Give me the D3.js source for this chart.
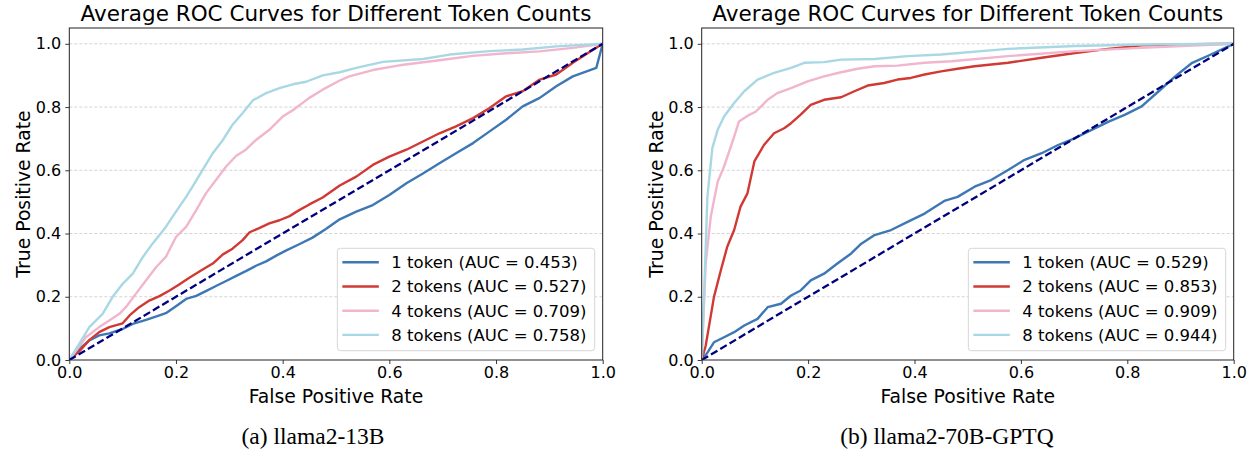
<!DOCTYPE html>
<html>
<head>
<meta charset="utf-8">
<script src="https://cdn.jsdelivr.net/npm/d3@7/dist/d3.min.js"></script>
<style>
  html, body { margin: 0; padding: 0; background: #fff; }
  svg { display: block; }
  text { font-family: "DejaVu Sans", sans-serif; fill: #000; }
  text.caption { font-family: "Liberation Serif", "Times New Roman", serif; }
</style>
</head>
<body>
<svg id="chart" width="1257" height="450"></svg>
<script>
// ---------- DATA ----------
const chartTitle = "Average ROC Curves for Different Token Counts";
const xLabel = "False Positive Rate";
const yLabel = "True Positive Rate";
const captions = ["(a) llama2-13B", "(b) llama2-70B-GPTQ"];
const tickValues = [0, 0.2, 0.4, 0.6, 0.8, 1.0];
const seriesNames = ["1 token", "2 tokens", "4 tokens", "8 tokens"];
const seriesColors = ["#3d78b4", "#d13a34", "#f1b5cd", "#a9d8e5"];
const aucLeft = [0.453, 0.527, 0.709, 0.758];
const aucRight = [0.529, 0.853, 0.909, 0.944];

// llama2-13B  [fpr, tpr]
const left1 = [[0,0],[.019,.035],[.0375,.062],[.056,.078],[.075,.084],[.1,.098],[.119,.114],[.144,.127],[.169,.141],[.181,.148],[.2,.170],[.219,.193],[.238,.203],[.256,.218],[.275,.234],[.294,.250],[.313,.266],[.331,.281],[.350,.298],[.369,.312],[.388,.330],[.406,.346],[.431,.366],[.456,.387],[.481,.414],[.507,.445],[.538,.469],[.569,.490],[.600,.522],[.632,.559],[.663,.590],[.694,.622],[.725,.654],[.757,.686],[.788,.723],[.819,.760],[.850,.802],[.882,.829],[.913,.866],[.944,.897],[.988,.924],[1,1]];
const left2 = [[0,0],[.019,.028],[.0375,.063],[.056,.088],[.075,.104],[.1,.116],[.113,.141],[.131,.167],[.150,.188],[.169,.202],[.188,.220],[.206,.239],[.225,.260],[.25,.286],[.269,.305],[.288,.334],[.306,.352],[.325,.379],[.338,.404],[.356,.417],[.375,.432],[.394,.442],[.413,.455],[.431,.474],[.450,.492],[.475,.514],[.507,.552],[.538,.580],[.569,.617],[.600,.643],[.632,.665],[.663,.691],[.694,.717],[.725,.739],[.757,.765],[.788,.797],[.819,.834],[.850,.850],[.882,.887],[.913,.903],[.944,.940],[.976,.975],[1,1]];
const left4 = [[0,0],[.031,.072],[.056,.104],[.075,.125],[.094,.146],[.106,.167],[.125,.210],[.144,.252],[.163,.294],[.181,.326],[.2,.389],[.219,.421],[.238,.474],[.256,.527],[.275,.569],[.294,.612],[.313,.646],[.331,.665],[.350,.696],[.375,.728],[.400,.770],[.419,.790],[.450,.829],[.475,.855],[.507,.884],[.525,.897],[.569,.917],[.619,.932],[.694,.948],[.756,.962],[.819,.970],[.881,.976],[.944,.987],[1,1]];
const left8 = [[0,0],[.0375,.104],[.0625,.146],[.081,.199],[.1,.241],[.119,.273],[.138,.326],[.156,.368],[.181,.421],[.2,.469],[.219,.516],[.231,.548],[.25,.601],[.269,.654],[.288,.696],[.306,.744],[.325,.781],[.344,.821],[.369,.844],[.394,.860],[.419,.872],[.444,.880],[.475,.900],[.507,.910],[.538,.924],[.588,.943],[.663,.952],[.713,.966],[.788,.977],[.850,.982],[.913,.992],[1,1]];

// llama2-70B-GPTQ  [fpr, tpr]
const right1 = [[0,0],[.011,.024],[.023,.056],[.042,.072],[.061,.088],[.080,.109],[.105,.130],[.124,.167],[.149,.178],[.168,.204],[.186,.220],[.205,.252],[.230,.273],[.255,.305],[.281,.337],[.300,.368],[.325,.395],[.356,.411],[.387,.437],[.419,.463],[.456,.503],[.481,.516],[.513,.548],[.544,.569],[.576,.601],[.607,.633],[.639,.654],[.670,.680],[.702,.702],[.733,.728],[.765,.754],[.796,.776],[.827,.802],[.859,.850],[.890,.897],[.922,.940],[.953,.963],[.984,.987],[1,1]];
const right2 = [[0,0],[.0075,.045],[.023,.199],[.036,.284],[.048,.358],[.061,.411],[.073,.485],[.086,.527],[.099,.628],[.117,.680],[.136,.717],[.155,.733],[.168,.749],[.186,.776],[.205,.807],[.230,.823],[.262,.831],[.287,.850],[.312,.868],[.343,.876],[.368,.887],[.393,.892],[.419,.903],[.450,.913],[.481,.921],[.513,.929],[.576,.940],[.639,.956],[.702,.971],[.764,.984],[.827,.995],[.890,.998],[1,1]];
const right4 = [[0,0],[.0075,.305],[.017,.453],[.030,.564],[.042,.612],[.058,.691],[.070,.754],[.086,.772],[.102,.786],[.124,.823],[.142,.844],[.168,.860],[.199,.881],[.230,.897],[.262,.910],[.293,.921],[.325,.929],[.368,.931],[.419,.940],[.469,.945],[.576,.961],[.702,.977],[.827,.987],[1,1]];
const right8 = [[0,0],[.0044,.199],[.0107,.516],[.020,.670],[.030,.728],[.042,.770],[.061,.813],[.080,.850],[.105,.887],[.136,.908],[.168,.924],[.193,.940],[.230,.942],[.262,.950],[.325,.952],[.387,.961],[.450,.966],[.576,.984],[.702,.993],[.827,.998],[1,1]];

// ---------- DRAW ----------
const svg = d3.select("#chart");
svg.append("rect").attr("width", 1257).attr("height", 450).attr("fill", "#fff");

const panels = [
  { x0: 69.3, x1: 602.7, series: [left1, left2, left4, left8], auc: aucLeft, caption: captions[0], capX: 313 },
  { x0: 701.7, x1: 1233.7, series: [right1, right2, right4, right8], auc: aucRight, caption: captions[1], capX: 947 }
];
const yTop = 28, yBot = 360;

panels.forEach((p, pi) => {
  const g = svg.append("g");
  const x = d3.scaleLinear().domain([0, 1]).range([p.x0, p.x1]);
  const y = d3.scaleLinear().domain([0, 1.05]).range([yBot, yTop]);
  const cx = (p.x0 + p.x1) / 2;

  // grid
  g.append("g").selectAll("line").data(tickValues.filter(d => d > 0)).join("line")
    .attr("x1", p.x0).attr("x2", p.x1)
    .attr("y1", d => y(d)).attr("y2", d => y(d))
    .attr("stroke", "#cfcfcf").attr("stroke-width", 0.9).attr("stroke-dasharray", "3,2");

  const clipId = "clip" + pi;
  g.append("clipPath").attr("id", clipId).append("rect")
    .attr("x", p.x0).attr("y", yTop).attr("width", p.x1 - p.x0).attr("height", yBot - yTop);

  const line = d3.line().x(d => x(d[0])).y(d => y(d[1]));
  const curves = g.append("g").attr("clip-path", `url(#${clipId})`);
  p.series.forEach((s, i) => {
    curves.append("path").datum(s).attr("d", line)
      .attr("fill", "none").attr("stroke", seriesColors[i])
      .attr("stroke-width", 2.4).attr("stroke-linejoin", "round");
  });
  curves.append("path").datum([[0, 0], [1, 1]]).attr("d", line)
    .attr("fill", "none").attr("stroke", "#000080")
    .attr("stroke-width", 2.3).attr("stroke-dasharray", "7.5,3.3");

  // axes
  const fmt = d3.format(".1f");
  const xa = g.append("g").attr("transform", `translate(0,${yBot})`)
    .call(d3.axisBottom(x).tickValues(tickValues).tickFormat(fmt).tickSize(4).tickPadding(3));
  const ya = g.append("g").attr("transform", `translate(${p.x0},0)`)
    .call(d3.axisLeft(y).tickValues(tickValues).tickFormat(fmt).tickSize(4).tickPadding(4));
  [xa, ya].forEach(a => {
    a.select(".domain").remove();
    a.selectAll(".tick line").attr("stroke", "#222").attr("stroke-width", 0.9);
    a.selectAll(".tick text").attr("font-family", "DejaVu Sans").attr("font-size", 16).attr("fill", "#000");
  });

  // frame
  g.append("rect").attr("x", p.x0).attr("y", yTop).attr("width", p.x1 - p.x0).attr("height", yBot - yTop)
    .attr("fill", "none").attr("stroke", "#222").attr("stroke-width", 1);

  // title & labels
  g.append("text").attr("x", cx).attr("y", 21).attr("text-anchor", "middle")
    .attr("font-size", 21.5).text(chartTitle);
  g.append("text").attr("x", cx).attr("y", 403).attr("text-anchor", "middle")
    .attr("font-size", 18.8).text(xLabel);
  g.append("text").attr("transform", `translate(${p.x0 - 39},${(yTop + yBot) / 2}) rotate(-90)`)
    .attr("text-anchor", "middle").attr("font-size", 18.8).text(yLabel);

  // caption
  g.append("text").attr("class", "caption").attr("x", p.capX).attr("y", 444).attr("text-anchor", "middle")
    .attr("font-size", 23.5)
    .text(p.caption);

  // legend
  const lg = g.append("g");
  const box = lg.append("rect").attr("rx", 3).attr("ry", 3)
    .attr("fill", "#fff").attr("fill-opacity", 0.85).attr("stroke", "#d6d6d6").attr("stroke-width", 1);
  const rowH = 24.2;
  const texts = [];
  seriesNames.forEach((n, i) => {
    texts.push(lg.append("text").attr("x", 54).attr("y", 14 + i * rowH).attr("dy", "0.36em")
      .attr("font-size", 16.5).text(`${n} (AUC = ${p.auc[i].toFixed(3)})`));
    lg.append("line").attr("x1", 5).attr("x2", 41.5)
      .attr("y1", 14 + i * rowH).attr("y2", 14 + i * rowH)
      .attr("stroke", seriesColors[i]).attr("stroke-width", 2.4);
  });
  const maxW = d3.max(texts, t => t.node().getComputedTextLength());
  const bw = 54 + maxW + 8.3, bh = 102.4;
  box.attr("width", bw).attr("height", bh);
  lg.attr("transform", `translate(${p.x1 - 8 - bw},${yBot - 9.3 - bh})`);
});
</script>
</body>
</html>
